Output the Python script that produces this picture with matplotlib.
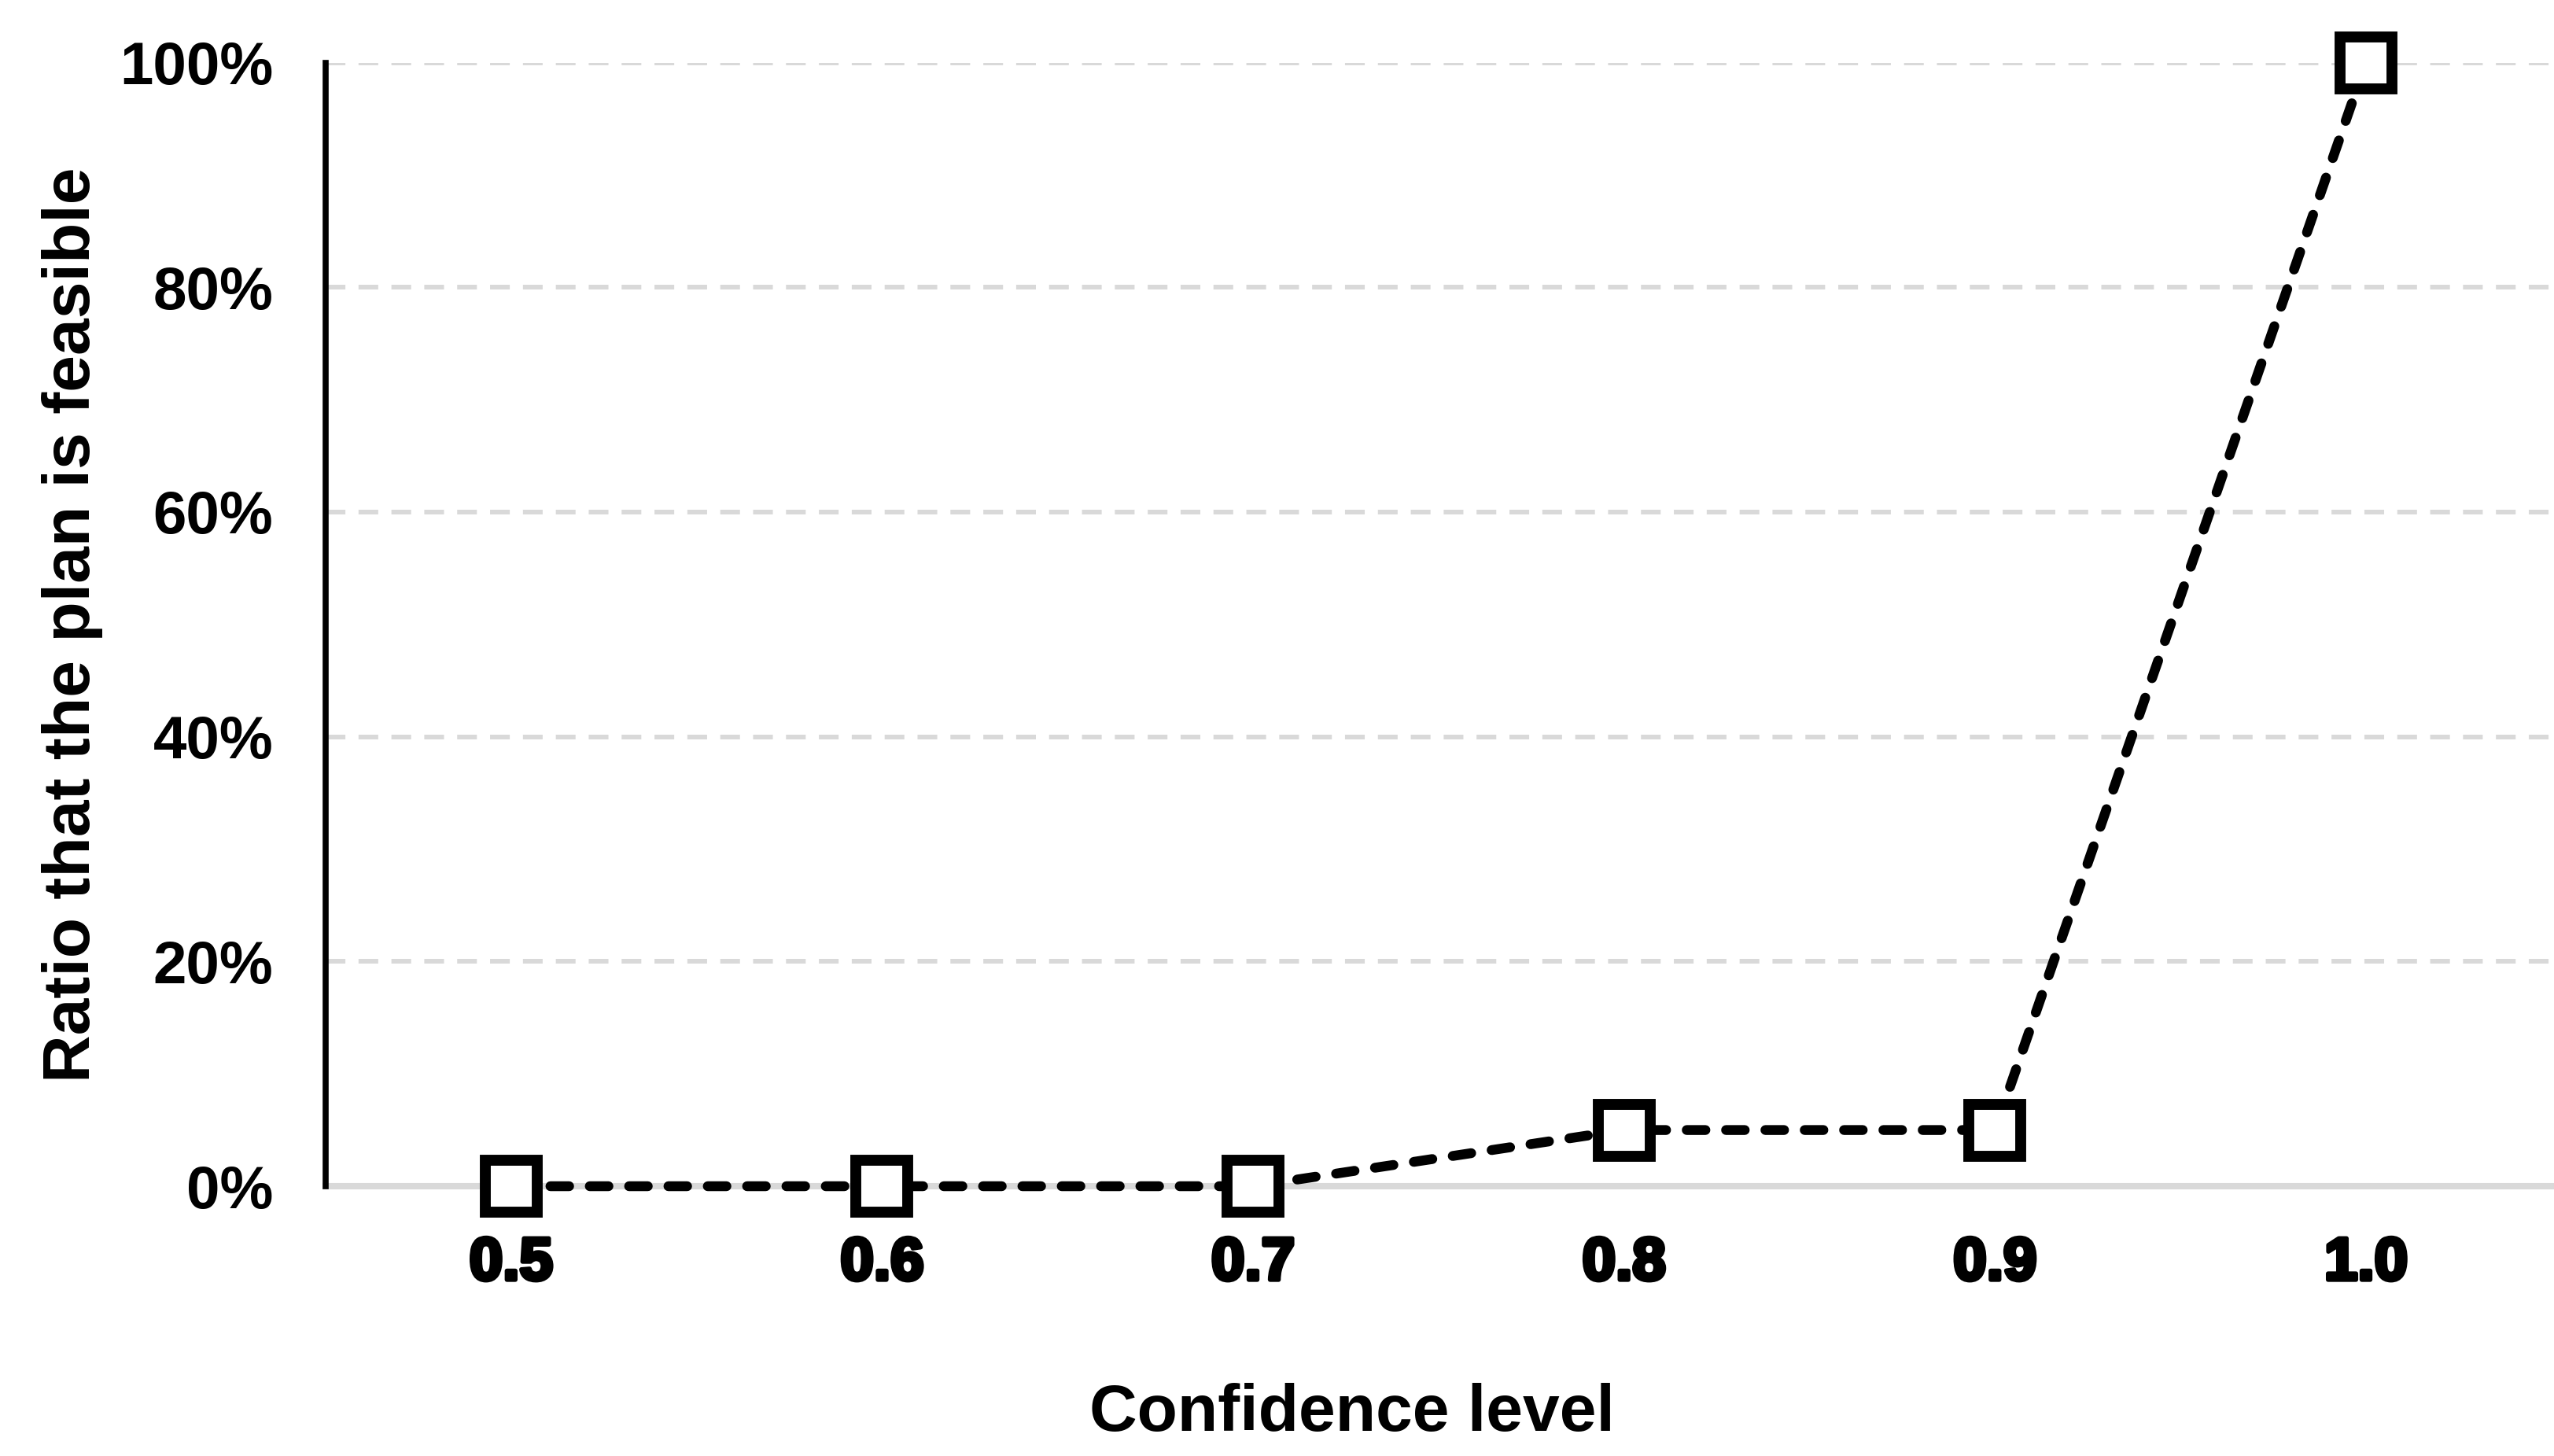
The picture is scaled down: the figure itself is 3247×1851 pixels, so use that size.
import matplotlib
matplotlib.use("Agg")
import matplotlib.pyplot as plt
import matplotlib.patheffects as pe
from matplotlib.ticker import FuncFormatter

# data
levels = ['0.5', '0.6', '0.7', '0.8', '0.9', '1.0']
feasible_pct = [0, 0, 0, 5, 5, 100]
y_ticks = [0, 20, 40, 60, 80, 100]

plt.rcParams['font.family'] = ['Liberation Sans', 'DejaVu Sans']
plt.rcParams['font.weight'] = 'bold'

fig = plt.figure(figsize=(32.47, 18.51), dpi=100)
ax = fig.add_axes([0.1275, 0.1853, 0.8715, 0.7717])

grid_col = '#d9d9d9'
for t in y_ticks[1:]:
    ax.axhline(t, color=grid_col, lw=4.3, ls=(0, (4.2, 2.8)), zorder=1)

x = list(range(len(levels)))
ax.plot(x, feasible_pct, color='black', lw=9, ls=(0, (1.9, 2.1)),
        dash_capstyle='round', marker='s', ms=47.5, mew=10, mfc='white',
        mec='black', zorder=3, clip_on=False)

ax.set_xlim(-0.5, len(levels) - 0.5)
ax.set_ylim(0, 100)
ax.set_xticks(x)
ax.set_xticklabels(levels)
ax.set_yticks(y_ticks)
ax.yaxis.set_major_formatter(FuncFormatter(lambda v, p: f"{v:.0f}%"))

for s in ['top', 'right']:
    ax.spines[s].set_visible(False)
ax.spines['left'].set_color('black')
ax.spines['left'].set_linewidth(5.5)
ax.spines['left'].set_zorder(4)
ax.spines['bottom'].set_color(grid_col)
ax.spines['bottom'].set_linewidth(5.8)
ax.spines['bottom'].set_zorder(2)

ax.tick_params(axis='both', length=0, labelsize=55)
ax.tick_params(axis='y', pad=48)
ax.tick_params(axis='x', pad=46)
for lab in ax.get_yticklabels():
    lab.set_fontweight('bold')
for lab in ax.get_xticklabels():
    lab.set_fontweight('bold')
    lab.set_path_effects([pe.withStroke(linewidth=4, foreground='black')])

ax.set_xlabel('Confidence level', fontsize=60.5, fontweight='bold')
ax.xaxis.set_label_coords(0.461, -0.175)
ax.set_ylabel('Ratio that the plan is feasible', fontsize=60.5, fontweight='bold')
ax.yaxis.set_label_coords(-0.1, 0.5)

fig.savefig('out.png', dpi=100, facecolor='white')
